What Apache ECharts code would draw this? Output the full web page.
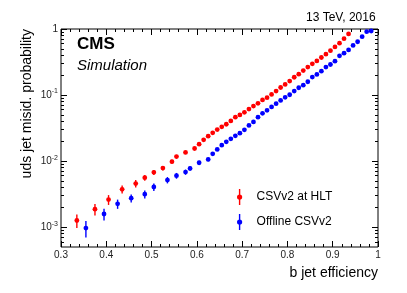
<!DOCTYPE html>
<html>
<head>
<meta charset="utf-8">
<script src="https://cdn.jsdelivr.net/npm/echarts@6/dist/echarts.min.js"></script>
<style>html,body{margin:0;padding:0;background:#fff;}#c{width:407px;height:293px;}</style>
</head>
<body>
<div id="c"></div>
<script>
// ---- data ----
const seriesNames = ['CSVv2 at HLT', 'Offline CSVv2'];
const xHLT = [0.335,0.375,0.405,0.435,0.465,0.485,0.505,0.525,0.545,0.555,0.575,0.595,0.605,
  0.615,0.625,0.635,0.645,0.655,0.665,0.675,0.685,0.695,0.705,0.715,0.725,0.735,0.745,0.755,0.765,
  0.775,0.785,0.795,0.805,0.815,0.825,0.835,0.845,0.855,0.865,0.875,0.885,0.895,0.905,0.915,0.925,0.935];
const yHLT = [0.00126,0.00187,0.00261,0.00374,0.00456,0.00561,0.00675,0.00783,0.00978,0.0117,0.0135,0.0155,0.0180,
  0.0210,0.0238,0.0268,0.0300,0.0330,0.0361,0.0406,0.0462,0.0500,0.0547,0.0612,0.0680,0.0748,0.0842,0.0912,0.102,
  0.115,0.130,0.145,0.163,0.186,0.207,0.235,0.265,0.297,0.328,0.370,0.415,0.470,0.535,0.610,0.714,0.841];
const eHLT = [0.23,0.20,0.17,0.14,0.13,0.10,0.09,0.08,0.07,0.06,0.055,0.05,0.045,
  0.04,0.04,0.035,0.035,0.03,0.03,0.03,0.03,0.025,0.025,0.025,0.025,0.02,0.02,0.02,0.02,
  0.02,0.02,0.015,0.015,0.015,0.015,0.015,0.015,0.01,0.01,0.01,0.01,0.01,0.01,0.01,0.01,0.01];
const xOff = [0.355,0.395,0.425,0.455,0.485,0.505,0.535,0.555,0.575,0.585,0.605,0.625,0.635,0.645,0.655,0.665,0.675,
  0.685,0.695,0.705,0.715,0.725,0.735,0.745,0.755,0.765,0.775,0.785,0.795,0.805,0.815,0.825,0.835,0.845,
  0.855,0.865,0.875,0.885,0.895,0.905,0.915,0.925,0.935,0.945,0.955,0.965,0.975,0.985];
const yOff = [0.000966,0.00158,0.00225,0.00274,0.00315,0.00405,0.00516,0.00601,0.00682,0.00775,0.00944,0.0106,0.0129,0.0150,0.0174,0.0196,0.0217,
  0.0241,0.0265,0.0297,0.0347,0.0392,0.0463,0.0529,0.0587,0.0660,0.0740,0.0830,0.0925,0.101,0.115,0.129,0.141,0.159,
  0.187,0.205,0.230,0.265,0.290,0.326,0.392,0.430,0.482,0.564,0.641,0.765,0.910,0.933];
const eOff = [0.28,0.20,0.16,0.14,0.14,0.13,0.11,0.10,0.09,0.08,0.07,0.06,0.055,0.05,0.05,0.045,0.04,
  0.04,0.035,0.035,0.03,0.03,0.03,0.03,0.025,0.025,0.025,0.02,0.02,0.02,0.02,0.02,0.015,0.015,
  0.015,0.015,0.015,0.01,0.01,0.01,0.01,0.01,0.01,0.01,0.01,0.01,0.01,0.01];
const xTicks = [0.3,0.4,0.5,0.6,0.7,0.8,0.9,1];
const yMajor = [0.001,0.01,0.1,1];
const yMinor = [0.0006,0.0007,0.0008,0.0009,
  0.002,0.003,0.004,0.005,0.006,0.007,0.008,0.009,
  0.02,0.03,0.04,0.05,0.06,0.07,0.08,0.09,
  0.2,0.3,0.4,0.5,0.6,0.7,0.8,0.9];
const colors = ['#ff0000', '#0000ff'];

// ---- chart ----
const FONT = '"Liberation Sans", Arial, Helvetica, sans-serif';
const chart = echarts.init(document.getElementById('c'), null, {renderer: 'canvas'});

function errRender(color) {
  return function (params, api) {
    const x = api.value(0), y = api.value(1), e = api.value(2);
    const c = api.coord([x, y]);
    const lo = api.coord([x, y * (1 - e)]);
    const hi = api.coord([x, y * (1 + e)]);
    return {
      type: 'group',
      children: [
        {type: 'line', shape: {x1: c[0], y1: lo[1], x2: c[0], y2: hi[1]}, style: {stroke: color, lineWidth: 1.4}},
        {type: 'circle', shape: {cx: c[0], cy: c[1], r: 2.4}, style: {fill: color}}
      ]
    };
  };
}

const yLabelFmt = function (v) {
  if (Math.abs(v - 1) < 1e-9) return '{b|1}';
  const ex = Math.round(Math.log10(v));
  return '{b|10}{s|' + '-' + (-ex) + '}';
};

const commonX = {
  type: 'value', min: 0.3, max: 1, interval: 0.1,
  axisLine: {show: false}, splitLine: {show: false}
};
const commonY = {
  type: 'log', logBase: 10, min: 0.0005, max: 1,
  axisLine: {show: false}, splitLine: {show: false}, minorTick: {show: false}
};

const iconPath = 'path://M2.3,0 L3.7,0 L3.7,16 L2.3,16 Z M3,5.4 A2.6,2.6 0 1 1 3,10.6 A2.6,2.6 0 1 1 3,5.4 Z';

chart.setOption({
  animation: false,
  backgroundColor: '#ffffff',
  textStyle: {fontFamily: FONT},
  grid: {left: 61, right: 29, top: 29, bottom: 46, show: true, borderColor: '#000', borderWidth: 1, backgroundColor: 'transparent'},
  xAxis: [
    Object.assign({}, commonX, {
      position: 'bottom',
      axisTick: {show: true, inside: true, length: 6, lineStyle: {color: '#000'}},
      minorTick: {show: true, splitNumber: 5, length: 3, lineStyle: {color: '#000'}},
      axisLabel: {show: true, margin: 3, fontSize: 10, color: '#222', fontFamily: FONT,
        customValues: xTicks,
        formatter: function (v) { return Math.abs(v - 1) < 1e-9 ? '1' : v.toFixed(1); }}
    }),
    Object.assign({}, commonX, {
      position: 'top',
      axisTick: {show: true, inside: true, length: 6, lineStyle: {color: '#000'}},
      minorTick: {show: true, splitNumber: 5, length: 3, lineStyle: {color: '#000'}},
      axisLabel: {show: false}
    })
  ],
  yAxis: [
    Object.assign({}, commonY, {
      position: 'left',
      axisTick: {show: true, inside: true, length: 6, customValues: yMajor, lineStyle: {color: '#000'}},
      axisLabel: {show: true, margin: 3, customValues: yMajor, formatter: yLabelFmt, color: '#222',
        rich: {
          b: {fontSize: 10, fontFamily: FONT, color: '#222'},
          s: {fontSize: 7, fontFamily: FONT, color: '#222', padding: [0, 0, 7, 0]}
        }}
    }),
    Object.assign({}, commonY, {
      position: 'left',
      axisTick: {show: true, inside: true, length: 3, customValues: yMinor, lineStyle: {color: '#000'}},
      axisLabel: {show: false}
    }),
    Object.assign({}, commonY, {
      position: 'right',
      axisTick: {show: true, inside: true, length: 6, customValues: yMajor, lineStyle: {color: '#000'}},
      axisLabel: {show: false}
    }),
    Object.assign({}, commonY, {
      position: 'right',
      axisTick: {show: true, inside: true, length: 3, customValues: yMinor, lineStyle: {color: '#000'}},
      axisLabel: {show: false}
    })
  ],
  legend: {
    orient: 'vertical', left: 237, top: 189, padding: 0,
    itemWidth: 6, itemHeight: 16, itemGap: 9,
    data: seriesNames.map(function (n) { return {name: n, icon: iconPath}; }),
    textStyle: {fontSize: 12, color: '#000', fontFamily: FONT, padding: [0, 0, 0, 9]},
    selectedMode: false
  },
  graphic: [
    {type: 'text', left: 306, top: 12, style: {text: '13 TeV, 2016', font: '12px ' + FONT, fill: '#000'}},
    {type: 'text', x: 77, y: 44, style: {text: 'CMS', font: 'bold 17px ' + FONT, fill: '#000', verticalAlign: 'middle'}},
    {type: 'text', x: 77, y: 65.5, style: {text: 'Simulation', font: 'italic 15px ' + FONT, fill: '#000', verticalAlign: 'middle'}},
    {type: 'text', x: 378, y: 273, style: {text: 'b jet efficiency', font: '14px ' + FONT, fill: '#000', align: 'right', verticalAlign: 'middle'}},
    {type: 'text', x: 27, y: 29, rotation: Math.PI / 2, style: {text: 'uds jet misid. probability', font: '14px ' + FONT, fill: '#000', align: 'right', verticalAlign: 'middle'}}
  ],
  series: [
    {
      name: seriesNames[0], type: 'custom', xAxisIndex: 0, yAxisIndex: 0,
      itemStyle: {color: colors[0]},
      renderItem: errRender(colors[0]),
      encode: {x: 0, y: 1},
      data: xHLT.map(function (x, i) { return [x, yHLT[i], eHLT[i]]; })
    },
    {
      name: seriesNames[1], type: 'custom', xAxisIndex: 0, yAxisIndex: 0,
      itemStyle: {color: colors[1]},
      renderItem: errRender(colors[1]),
      encode: {x: 0, y: 1},
      data: xOff.map(function (x, i) { return [x, yOff[i], eOff[i]]; })
    }
  ]
});
</script>
</body>
</html>
